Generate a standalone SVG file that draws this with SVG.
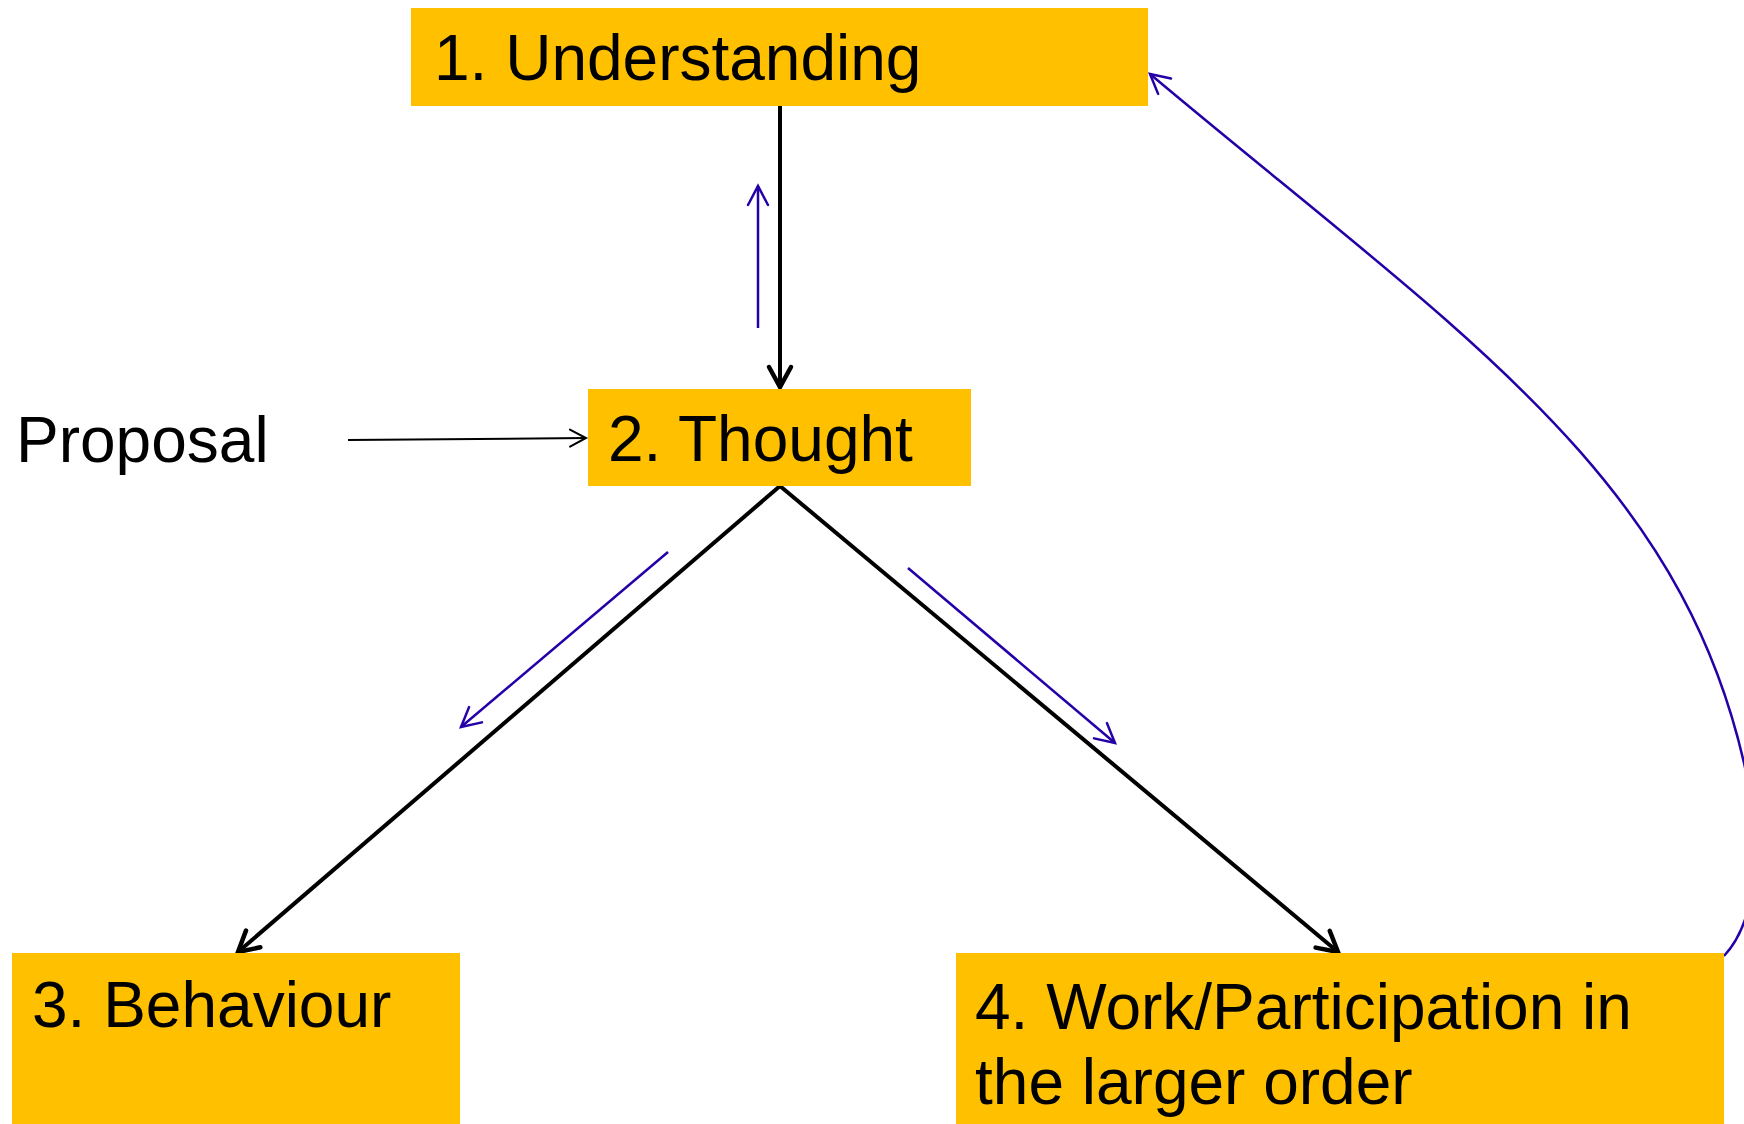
<svg xmlns="http://www.w3.org/2000/svg" width="1744" height="1124" viewBox="0 0 1744 1124">
  <style>
    .box { fill: #FFC000; stroke: none; }
    .lbl { font-family: "Liberation Sans", Arial, sans-serif; font-size: 64px; fill: #000000; }
    .main { stroke: #000000; stroke-width: 4; fill: none; }
    .thin { stroke: #000000; stroke-width: 2; fill: none; }
    .blue { stroke: #2400A8; stroke-width: 2.5; fill: none; }
  </style>
  <defs>
    <marker id="ahBlack" markerUnits="userSpaceOnUse" orient="auto" refX="0" refY="0" markerWidth="50" markerHeight="50" viewBox="-25 -25 50 50" overflow="visible">
      <path d="M-20,-11 L0,0 L-20,11" fill="none" stroke="#000000" stroke-width="4.5" stroke-linecap="round" stroke-linejoin="miter"/>
    </marker>
    <marker id="ahThin" markerUnits="userSpaceOnUse" orient="auto" refX="0" refY="0" markerWidth="40" markerHeight="40" viewBox="-20 -20 40 40" overflow="visible">
      <path d="M-16,-8.5 L0,0 L-16,8.5" fill="none" stroke="#000000" stroke-width="2" stroke-linecap="round"/>
    </marker>
    <marker id="ahBlue" markerUnits="userSpaceOnUse" orient="auto" refX="0" refY="0" markerWidth="40" markerHeight="40" viewBox="-20 -20 40 40" overflow="visible">
      <path d="M-19,-10 L0,0 L-19,10" fill="none" stroke="#2400A8" stroke-width="2.5" stroke-linecap="round"/>
    </marker>
  </defs>

  <g id="connectors">
    <line class="main" x1="780" y1="106" x2="780" y2="387" marker-end="url(#ahBlack)"/>
    <line class="main" x1="780" y1="486" x2="238" y2="952" marker-end="url(#ahBlack)"/>
    <line class="main" x1="780" y1="486" x2="1338" y2="952" marker-end="url(#ahBlack)"/>
    <line class="thin" x1="348" y1="440" x2="586" y2="438" marker-end="url(#ahThin)"/>
    <line class="blue" x1="758" y1="328" x2="758" y2="186" marker-end="url(#ahBlue)"/>
    <line class="blue" x1="668" y1="552" x2="461" y2="727" marker-end="url(#ahBlue)"/>
    <line class="blue" x1="908" y1="568" x2="1115" y2="743" marker-end="url(#ahBlue)"/>
    <path class="blue" d="M1724,956 C1756,922 1764,850 1744,763 C1677,470 1456,331 1150,74" marker-end="url(#ahBlue)"/>
  </g>

  <g id="node-understanding">
    <rect class="box" x="411" y="8" width="737" height="98"/>
    <text class="lbl" x="434" y="80">1. Understanding</text>
  </g>
  <g id="node-thought">
    <rect class="box" x="588" y="389" width="383" height="97"/>
    <text class="lbl" x="608" y="461">2. Thought</text>
  </g>
  <g id="node-proposal">
    <text class="lbl" x="16" y="462">Proposal</text>
  </g>
  <g id="node-behaviour">
    <rect class="box" x="12" y="953" width="448" height="171"/>
    <text class="lbl" x="32" y="1027">3. Behaviour</text>
  </g>
  <g id="node-work">
    <rect class="box" x="956" y="953" width="768" height="171"/>
    <text class="lbl" x="975" y="1029">4. Work/Participation in</text>
    <text class="lbl" x="975" y="1104">the larger order</text>
  </g>
</svg>
